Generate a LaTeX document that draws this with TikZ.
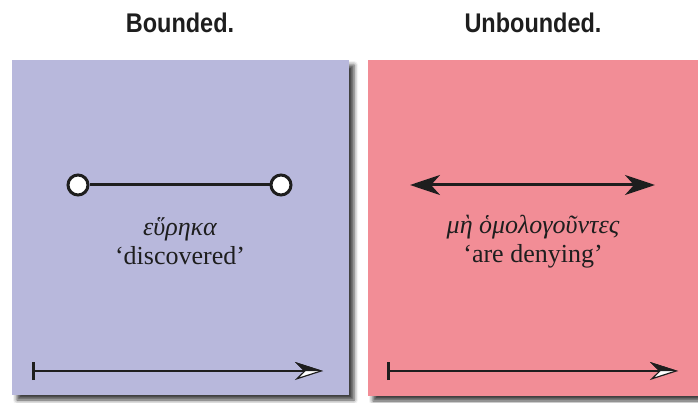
\documentclass[tikz,border=0pt]{standalone}
\usepackage{fontspec}
\setmainfont{Liberation Serif}
\newfontfamily\headfont[FakeStretch=0.87]{Liberation Sans}
\usepackage{tikz}
\usetikzlibrary{arrows.meta,shadows.blur}
\definecolor{cBound}{HTML}{B8B8DC}
\definecolor{cUnbound}{HTML}{F28D96}
\definecolor{cInk}{HTML}{1E1E1E}
\tikzset{
  panel/.style   ={rectangle, inner sep=0pt, draw=none,
                   blur shadow={shadow xshift=5pt, shadow yshift=-5pt,
                   shadow blur radius=4pt, shadow opacity=75}},
  ttl/.style     ={font=\headfont\bfseries\fontsize{27}{30}\selectfont, text=cInk, anchor=base},
  gloss/.style   ={font=\fontsize{26}{30}\selectfont, text=cInk, anchor=base},
  greek/.style   ={font=\itshape\fontsize{26}{30}\selectfont, text=cInk, anchor=base},
  endpt/.style   ={circle, draw=cInk, fill=white, line width=3pt,
                   minimum size=20pt, inner sep=0pt},
  seg/.style     ={draw=cInk, line width=3pt},
  dblarrow/.style={{Stealth[length=30pt,width=20pt,inset=9pt]}-{Stealth[length=30pt,width=20pt,inset=9pt]},
                   draw=cInk, line width=3pt},
  timeline/.style={{Bar[width=18pt,line width=3.4pt]}-{Stealth[length=28pt,width=18pt,inset=9pt,fill=white,line width=1.2pt]},
                   draw=cInk, line width=2.4pt},
}
\begin{document}
\begin{tikzpicture}[x=1pt,y=-1pt]

  \useasboundingbox (0,0) rectangle (698,403);

  % ---- titles ----
  \node[ttl] (tb) at (180,33) {Bounded.};
  \node[ttl] (tu) at (533,33) {Unbounded.};

  % ---- panels ----
  \node[panel, fill=cBound, minimum width=337pt, minimum height=335pt]
    (pb) at (180.5,227.5) {};
  \node[panel, fill=cUnbound, minimum width=330pt, minimum height=336pt]
    (pu) at (533,228) {};

  % ---- bounded: closed segment ----
  \node[endpt] (lo) at (78,185) {};
  \node[endpt] (hi) at (281,185) {};
  \draw[seg] (lo) -- (hi);
  \node[greek] (gb) at (180,236) {εὕρηκα};
  \node[gloss] (eb) at (180,265) {‘discovered’};

  % ---- unbounded: open both ways ----
  \coordinate (ul) at (410,185);
  \coordinate (ur) at (655,185);
  \draw[dblarrow] (ul) -- (ur);
  \node[greek] (gu) at (533,234) {μὴ ὁμολογοῦντες};
  \node[gloss] (eu) at (533,262) {‘are denying’};

  % ---- time lines ----
  \coordinate (b0) at (32,371);
  \coordinate (b1) at (323,371);
  \draw[timeline] (b0) -- (b1);
  \fill[cInk] (b1) -- ++(-28,-9) -- ++(9,9) -- cycle;

  \coordinate (u0) at (387,371);
  \coordinate (u1) at (678,371);
  \draw[timeline] (u0) -- (u1);
  \fill[cInk] (u1) -- ++(-28,-9) -- ++(9,9) -- cycle;

\end{tikzpicture}
\end{document}
